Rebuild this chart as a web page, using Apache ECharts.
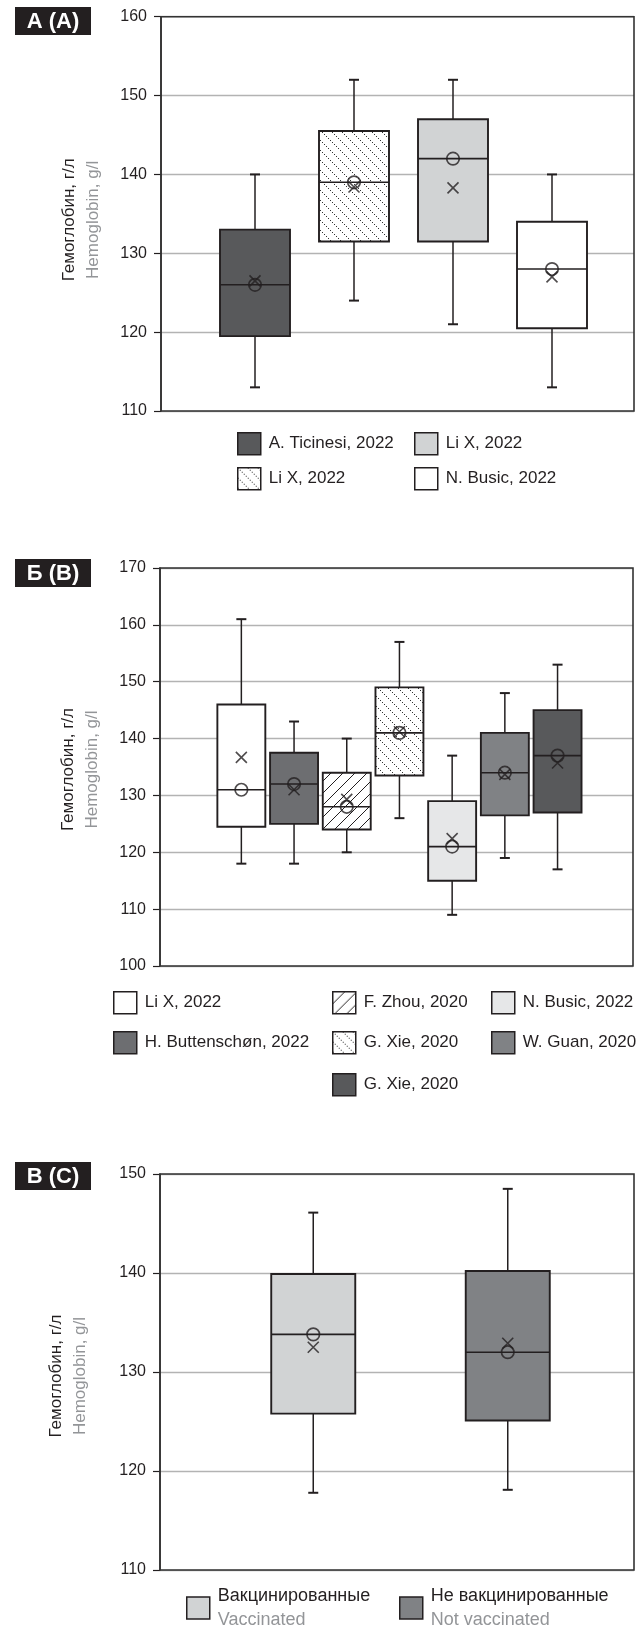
<!DOCTYPE html>
<html><head><meta charset="utf-8">
<script src="https://cdn.jsdelivr.net/npm/echarts@6/dist/echarts.min.js"></script>
<style>html,body{margin:0;padding:0;background:#fff}#c{width:640px;height:1625px}</style>
</head><body><div id="c"></div>
<script>
// ---------- Panel A ----------
const A_studies = ['A. Ticinesi, 2022', 'Li X, 2022', 'Li X, 2022', 'N. Busic, 2022'];
const A_min    = [113, 124, 121, 113];
const A_q1     = [119.5, 131.5, 131.5, 120.5];
const A_median = [126, 139, 142, 128];
const A_q3     = [133, 145.5, 147, 134];
const A_max    = [140, 152, 152, 140];
const A_mean   = [126.5, 138.4, 138.3, 127];
const A_ticks  = [110, 120, 130, 140, 150, 160];

// ---------- Panel B ----------
const B_studies = ['Li X, 2022', 'H. Buttenschøn, 2022', 'F. Zhou, 2020', 'G. Xie, 2020', 'N. Busic, 2022', 'W. Guan, 2020', 'G. Xie, 2020'];
const B_min    = [118, 118, 120, 126, 109, 119, 117];
const B_q1     = [124.5, 125, 124, 133.5, 115, 126.5, 127];
const B_median = [131, 132, 128, 141, 121, 134, 137];
const B_q3     = [146, 137.5, 134, 149, 129, 141, 145];
const B_max    = [161, 143, 140, 157, 137, 148, 153];
const B_mean   = [136.7, 131, 129.3, 141.2, 122.4, 133.7, 135.7];
const B_ticks  = [100, 110, 120, 130, 140, 150, 160, 170];

// ---------- Panel C ----------
const C_groups   = ['Вакцинированные', 'Не вакцинированные'];
const C_groupsEn = ['Vaccinated', 'Not vaccinated'];
const C_min    = [117.8, 118.1];
const C_q1     = [125.8, 125.1];
const C_median = [133.8, 132.0];
const C_q3     = [139.9, 140.2];
const C_max    = [146.1, 148.5];
const C_mean   = [132.5, 132.9];
const C_ticks  = [110, 120, 130, 140, 150];

const panelLabels = ['А (A)', 'Б (B)', 'В (C)'];
const yNameRu = 'Гемоглобин, г/л';
const yNameEn = 'Hemoglobin, g/l';

// ---------- styles ----------
const INK = '#231f20', GRAYTXT = '#939598', GRID = '#b3b3b3';
function hasFont(f) {
  const g = document.createElement('canvas').getContext('2d');
  g.font = '20px monospace'; const a = g.measureText('abcdefghijABCDEF').width;
  g.font = '20px "' + f + '", monospace'; return g.measureText('abcdefghijABCDEF').width !== a;
}
const NARROW = hasFont('Liberation Sans Narrow');
const LEG_FONT = NARROW ? '"Liberation Sans Narrow"' : '"Liberation Sans"';
const LEG_SIZE = NARROW ? 20.5 : 17;
const LEG_SIZE_C = NARROW ? 21 : 18;
const AX_FONT = '"Liberation Sans", Arial, sans-serif';

function dotPattern() {
  const s = 10, cv = document.createElement('canvas'); cv.width = s; cv.height = s;
  const g = cv.getContext('2d'); g.fillStyle = '#fff'; g.fillRect(0, 0, s, s);
  g.fillStyle = '#333333';
  [0, 2, 4, 6, 8].forEach(p => g.fillRect(p, p, 1, 1));
  return { image: cv, repeat: 'repeat' };
}
function hatchPattern() {
  const s = 12, cv = document.createElement('canvas'); cv.width = s; cv.height = s;
  const g = cv.getContext('2d'); g.fillStyle = '#fff'; g.fillRect(0, 0, s, s);
  g.strokeStyle = INK; g.lineWidth = 1; g.beginPath();
  g.moveTo(-1, s + 1); g.lineTo(s + 1, -1);
  g.moveTo(-1, 1); g.lineTo(1, -1);
  g.moveTo(s - 1, s + 1); g.lineTo(s + 1, s - 1);
  g.stroke();
  return { image: cv, repeat: 'repeat' };
}
const DOTS = dotPattern(), HATCH = hatchPattern();

const A_fills = ['#58595b', DOTS, '#d1d3d4', '#ffffff'];
const B_fills = ['#ffffff', '#6d6e71', HATCH, DOTS, '#e6e7e8', '#808285', '#58595b'];
const C_fills = ['#d1d3d4', '#808285'];

// ---------- layout ----------
const panels = [
  { frame: { left: 161, top: 16.7, width: 473, height: 394.3 }, inner: { left: 205.5, width: 396 }, boxFrac: 0.707,
    ticks: A_ticks, nameGap: 56, namePad: 12 },
  { frame: { left: 160, top: 568, width: 473, height: 398 }, inner: { left: 215, width: 368.9 }, boxFrac: 0.91,
    ticks: B_ticks, nameGap: 56, namePad: 5 },
  { frame: { left: 160, top: 1174, width: 474, height: 396 }, inner: { left: 216, width: 389 }, boxFrac: 0.432,
    ticks: C_ticks, nameGap: 68, namePad: 8 }
];
const labelTops = [7, 559, 1162];

function boxRenderer(frac, fills) {
  return function (params, api) {
    const i = api.value(0);
    const x = api.coord([i, api.value(3)])[0];
    const Y = k => api.coord([i, api.value(k)])[1];
    const yMin = Y(1), yQ1 = Y(2), yMed = Y(3), yQ3 = Y(4), yMax = Y(5);
    const w = api.size([1, 0])[0] * frac;
    const ls = { stroke: INK, lineWidth: 1.5 };
    return { type: 'group', children: [
      { type: 'line', shape: { x1: x, y1: yMax, x2: x, y2: yQ3 }, style: ls },
      { type: 'line', shape: { x1: x, y1: yQ1, x2: x, y2: yMin }, style: ls },
      { type: 'line', shape: { x1: x - 5, y1: yMax, x2: x + 5, y2: yMax }, style: { stroke: INK, lineWidth: 2 } },
      { type: 'line', shape: { x1: x - 5, y1: yMin, x2: x + 5, y2: yMin }, style: { stroke: INK, lineWidth: 2 } },
      { type: 'rect', shape: { x: x - w / 2, y: yQ3, width: w, height: yQ1 - yQ3 },
        style: { fill: fills[params.dataIndex], stroke: INK, lineWidth: 1.9 } },
      { type: 'line', shape: { x1: x - w / 2, y1: yMed, x2: x + w / 2, y2: yMed }, style: { stroke: INK, lineWidth: 1.6 } }
    ] };
  };
}

const grids = [], xAxes = [], yAxes = [], series = [], legends = [], graphics = [];
const crossSymbol = 'path://M0,0L10,10M10,0L0,10';

function addPanel(p, idx, names, mins, q1s, meds, q3s, maxs, means, fills) {
  const fg = idx * 2, ig = idx * 2 + 1;
  const f = p.frame;
  grids.push({ left: f.left, top: f.top, width: f.width, height: f.height, show: true,
    borderColor: '#333333', borderWidth: 1.6, backgroundColor: 'transparent', z: 5 });
  grids.push({ left: p.inner.left, top: f.top, width: p.inner.width, height: f.height });
  const ymin = p.ticks[0], ymax = p.ticks[p.ticks.length - 1], step = p.ticks[1] - p.ticks[0];
  xAxes.push({ gridIndex: fg, type: 'category', show: false, data: ['x'] });
  xAxes.push({ gridIndex: ig, type: 'category', show: false, data: names.map((_, i) => 'c' + i) });
  yAxes.push({ gridIndex: fg, type: 'value', min: ymin, max: ymax, interval: step,
    axisLine: { show: true, lineStyle: { color: INK, width: 1.5 } },
    axisTick: { show: true, length: 7, inside: false, lineStyle: { color: INK, width: 1.2 } },
    axisLabel: { margin: 14, color: INK, fontSize: 16, fontFamily: AX_FONT },
    splitLine: { show: true, lineStyle: { color: GRID, width: 1.4 } },
    name: '{a|' + yNameRu + '}\n{b|' + yNameEn + '}', nameLocation: 'middle', nameRotate: 90, nameGap: p.nameGap,
    nameTextStyle: { padding: [0, p.namePad, 0, 0], rich: {
      a: { color: INK, fontSize: 17, lineHeight: 24, fontFamily: AX_FONT },
      b: { color: GRAYTXT, fontSize: 17, lineHeight: 24, fontFamily: AX_FONT } } } });
  yAxes.push({ gridIndex: ig, type: 'value', min: ymin, max: ymax, interval: step, show: false, splitLine: { show: false } });

  series.push({ type: 'custom', xAxisIndex: ig, yAxisIndex: ig, renderItem: boxRenderer(p.boxFrac, fills),
    encode: { x: 0, y: [1, 2, 3, 4, 5] }, z: 2,
    data: names.map((_, i) => [i, mins[i], q1s[i], meds[i], q3s[i], maxs[i]]) });
  series.push({ type: 'scatter', xAxisIndex: ig, yAxisIndex: ig, symbol: 'circle', symbolSize: 12.5, z: 3,
    itemStyle: { color: 'transparent', borderColor: INK, borderWidth: 1.7 }, silent: true,
    data: meds.map((v, i) => [i, v]) });
  series.push({ type: 'scatter', xAxisIndex: ig, yAxisIndex: ig, symbol: crossSymbol, symbolSize: 11, z: 3,
    itemStyle: { color: 'transparent', borderColor: INK, borderWidth: 1.6 }, silent: true,
    data: means.map((v, i) => [i, v]) });
  // legend carrier series (one per box)
  names.forEach((n, i) => {
    series.push({ type: 'bar', name: 'P' + idx + '_' + i, xAxisIndex: ig, yAxisIndex: ig, data: [],
      itemStyle: { color: fills[i], borderColor: INK, borderWidth: 1.5 } });
  });
  graphics.push({ type: 'group', left: 15, top: labelTops[idx], children: [
    { type: 'rect', shape: { x: 0, y: 0, width: 76, height: 28 }, style: { fill: INK } },
    { type: 'text', x: 38, y: 14.5, style: { text: panelLabels[idx], fill: '#fff', align: 'center', verticalAlign: 'middle',
      fontSize: 22, fontWeight: 'bold', fontFamily: AX_FONT } }
  ] });
}

addPanel(panels[0], 0, A_studies, A_min, A_q1, A_median, A_q3, A_max, A_mean, A_fills);
addPanel(panels[1], 1, B_studies, B_min, B_q1, B_median, B_q3, B_max, B_mean, B_fills);
addPanel(panels[2], 2, C_groups, C_min, C_q1, C_median, C_q3, C_max, C_mean, C_fills);

function addLegend(name, text, left, top, rich) {
  const ts = { fontFamily: LEG_FONT, fontSize: LEG_SIZE, color: INK, lineHeight: 22, padding: [0, 0, 0, 3] };
  if (rich) ts.rich = {
    a: { fontFamily: LEG_FONT, fontSize: LEG_SIZE_C, color: INK, lineHeight: 24 },
    b: { fontFamily: LEG_FONT, fontSize: LEG_SIZE_C, color: GRAYTXT, lineHeight: 24 } };
  legends.push({ data: [name], left: left, top: top, padding: 0, itemWidth: 23, itemHeight: 22, icon: 'rect',
    selectedMode: false, itemStyle: { borderColor: INK, borderWidth: 1.5 }, textStyle: ts,
    formatter: () => text });
}
// Panel A legend
addLegend('P0_0', A_studies[0], 237, 432);
addLegend('P0_2', A_studies[2], 414, 432);
addLegend('P0_1', A_studies[1], 237, 467);
addLegend('P0_3', A_studies[3], 414, 467);
// Panel B legend
addLegend('P1_0', B_studies[0], 113, 991);
addLegend('P1_2', B_studies[2], 332, 991);
addLegend('P1_4', B_studies[4], 491, 991);
addLegend('P1_1', B_studies[1], 113, 1031);
addLegend('P1_3', B_studies[3], 332, 1031);
addLegend('P1_5', B_studies[5], 491, 1031);
addLegend('P1_6', B_studies[6], 332, 1073);
// Panel C legend
addLegend('P2_0', '{a|' + C_groups[0] + '}\n{b|' + C_groupsEn[0] + '}', 186, 1584, true);
addLegend('P2_1', '{a|' + C_groups[1] + '}\n{b|' + C_groupsEn[1] + '}', 399, 1584, true);

const chart = echarts.init(document.getElementById('c'), null, { renderer: 'canvas' });
chart.setOption({
  animation: false,
  backgroundColor: '#ffffff',
  grid: grids, xAxis: xAxes, yAxis: yAxes, series: series, legend: legends, graphic: graphics
});
</script></body></html>
